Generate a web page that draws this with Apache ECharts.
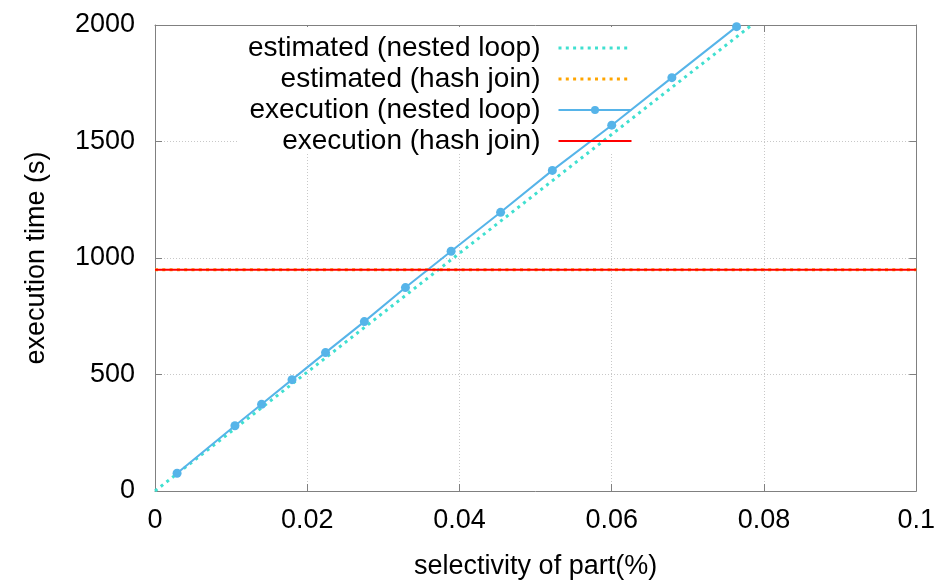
<!DOCTYPE html>
<html>
<head>
<meta charset="utf-8">
<script src="https://cdn.jsdelivr.net/npm/echarts@6/dist/echarts.min.js"></script>
<style>html,body{margin:0;padding:0;background:#fff;}#c{width:938px;height:585px;}</style>
</head>
<body>
<div id="c"></div>
<script>
// ---- data ----
const seriesNames = ['estimated (nested loop)', 'estimated (hash join)', 'execution (nested loop)', 'execution (hash join)'];
const execNestedX = [0.0029, 0.0105, 0.0140, 0.0180, 0.0224, 0.0275, 0.0329, 0.0389, 0.0454, 0.0522, 0.0600, 0.0679, 0.0764];
const execNestedY = [76, 280, 372, 478, 594, 727, 873, 1029, 1196, 1376, 1570, 1774, 1993];
const estNestedX = [0, 0.0784];
const estNestedY = [0, 2000];
const hashX = [0, 0.1];
const estHashY = [950, 950];
const execHashY = [950, 950];
const xTicks = [0, 0.02, 0.04, 0.06, 0.08, 0.1];
const yTicks = [0, 500, 1000, 1500, 2000];

const pairs = (xs, ys) => xs.map((x, i) => [x, ys[i]]);
const FONT = 'Liberation Sans';
const FS = 27;
const axisGray = '#808080';
const gridStyle = { color: '#c8c8c8', type: [1, 2], width: 1 };
const dotted = [3, 4.3];

const chart = echarts.init(document.getElementById('c'));
const xBase = { type: 'value', min: xTicks[0], max: xTicks[xTicks.length - 1], interval: xTicks[1] - xTicks[0] };
const yBase = { type: 'value', min: yTicks[0], max: yTicks[yTicks.length - 1], interval: yTicks[1] - yTicks[0] };

chart.setOption({
  animation: false,
  backgroundColor: '#fff',
  textStyle: { fontFamily: FONT },
  grid: { left: 155, right: 21, top: 25, bottom: 89, containLabel: false },
  xAxis: [
    Object.assign({}, xBase, {
      position: 'bottom',
      name: 'selectivity of part(%)', nameLocation: 'middle', nameGap: 62,
      nameTextStyle: { fontSize: FS, color: '#000', fontFamily: FONT },
      axisLine: { show: true, onZero: false, lineStyle: { color: axisGray, width: 1 } },
      axisTick: { show: true, inside: true, length: 7, lineStyle: { color: axisGray } },
      axisLabel: { fontSize: FS, color: '#000', margin: 16, fontFamily: FONT, formatter: v => String(v) },
      splitLine: { show: true, lineStyle: gridStyle }
    }),
    Object.assign({}, xBase, {
      position: 'top',
      axisLine: { show: true, onZero: false, lineStyle: { color: axisGray, width: 1 } },
      axisTick: { show: true, inside: true, length: 7, lineStyle: { color: axisGray } },
      axisLabel: { show: false },
      splitLine: { show: false }
    })
  ],
  yAxis: [
    Object.assign({}, yBase, {
      position: 'left',
      name: 'execution time (s)', nameLocation: 'middle', nameGap: 105, nameRotate: 90,
      nameTextStyle: { fontSize: FS, color: '#000', fontFamily: FONT },
      axisLine: { show: true, onZero: false, lineStyle: { color: axisGray, width: 1 } },
      axisTick: { show: true, inside: true, length: 7, lineStyle: { color: axisGray } },
      axisLabel: { fontSize: FS, color: '#000', margin: 20, fontFamily: FONT, padding: [4, 0, 0, 0], formatter: v => String(v) },
      splitLine: { show: true, lineStyle: gridStyle }
    }),
    Object.assign({}, yBase, {
      position: 'right',
      axisLine: { show: true, onZero: false, lineStyle: { color: axisGray, width: 1 } },
      axisTick: { show: true, inside: true, length: 7, lineStyle: { color: axisGray } },
      axisLabel: { show: false },
      splitLine: { show: false }
    })
  ],
  legend: {
    orient: 'vertical',
    align: 'right',
    right: 305,
    top: 34,
    padding: 0,
    itemGap: 3,
    itemWidth: 73,
    itemHeight: 10,
    selectedMode: false,
    textStyle: { fontSize: 28, color: '#000', fontFamily: FONT, padding: [0, 13, 0, 0] },
    data: [
      { name: seriesNames[0], itemStyle: { opacity: 0 }, lineStyle: { width: 3, type: dotted, cap: 'butt' } },
      { name: seriesNames[1], itemStyle: { opacity: 0 }, lineStyle: { width: 3, type: dotted, cap: 'butt' } },
      { name: seriesNames[2], lineStyle: { width: 2 } },
      { name: seriesNames[3], itemStyle: { opacity: 0 }, lineStyle: { width: 2 } }
    ]
  },
  graphic: [{
    type: 'rect', z: 1, silent: true,
    shape: { x: 238, y: 27, width: 410, height: 125 },
    style: { fill: '#fff' }
  }],
  series: [
    {
      name: seriesNames[0], type: 'line', data: pairs(estNestedX, estNestedY),
      showSymbol: false, symbol: 'none', z: 2,
      lineStyle: { color: '#40e0d0', width: 3, type: dotted, cap: 'butt' },
      itemStyle: { color: '#40e0d0' }
    },
    {
      name: seriesNames[1], type: 'line', data: pairs(hashX, estHashY),
      showSymbol: false, symbol: 'none', z: 2,
      lineStyle: { color: '#ffa500', width: 3, type: dotted, cap: 'butt' },
      itemStyle: { color: '#ffa500' }
    },
    {
      name: seriesNames[2], type: 'line', data: pairs(execNestedX, execNestedY),
      symbol: 'circle', symbolSize: 9, z: 3,
      lineStyle: { color: '#56b4e9', width: 2 },
      itemStyle: { color: '#56b4e9' }
    },
    {
      name: seriesNames[3], type: 'line', data: pairs(hashX, execHashY),
      showSymbol: false, symbol: 'none', z: 3,
      lineStyle: { color: '#ff0000', width: 2 },
      itemStyle: { color: '#ff0000' }
    }
  ]
});
</script>
</body>
</html>
